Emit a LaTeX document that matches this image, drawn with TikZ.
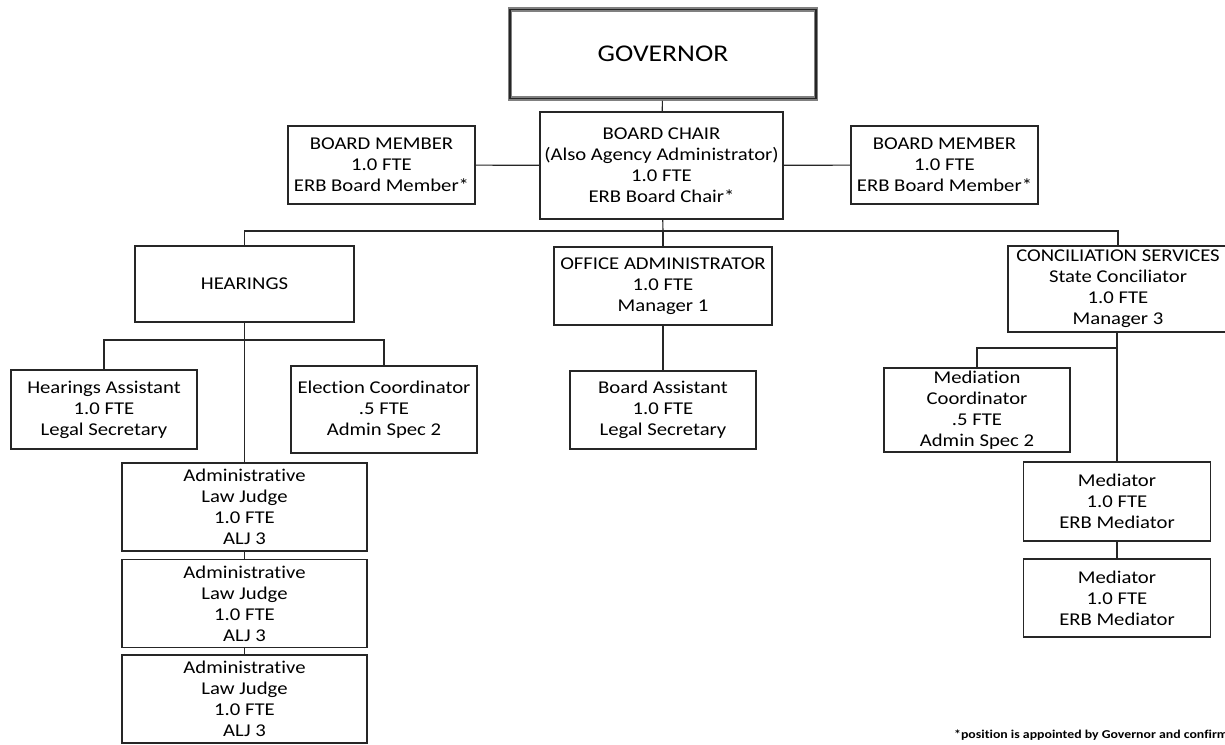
\documentclass[tikz,border=0pt]{standalone}
\usepackage{fontspec}
\setmainfont{Carlito}[FakeStretch=1.15,Ligatures=NoCommon]

\begin{document}
\begin{tikzpicture}[x=1pt,y=-1pt,
  box/.style={draw=black!85,line width=1.1pt,fill=white,inner sep=0pt,align=center,font=\fontsize{18}{21}\selectfont},
  wh/.style 2 args={minimum width=#1pt,minimum height=#2pt},
  gov/.style={box,draw=black!50,line width=4.5pt,postaction={draw=black!85,line width=1.2pt},font=\fontsize{24}{28}\selectfont},
  link/.style={draw=black!85,line width=1.1pt},
  note/.style={inner sep=0pt,font=\bfseries\fontsize{12}{14}\selectfont}]
\clip (0,0) rectangle (1225,744);
\fill[white] (0,0) rectangle (1225,744);
%%% top of the chart
\node[gov,wh={306}{89}] (gov) at (663,54) {GOVERNOR};
\node[box,wh={243}{107}] (chair) at (661.5,165.5) {BOARD CHAIR\\(Also Agency Administrator)\\1.0 FTE\\ERB Board Chair*};
\node[box,wh={187}{78}] (bml) at (381.5,165) {BOARD MEMBER\\1.0 FTE\\ERB Board Member*};
\node[box,wh={187}{78}] (bmr) at (944.5,165) {BOARD MEMBER\\1.0 FTE\\ERB Board Member*};
\draw[link] (gov) -- (chair);
\draw[link] (bml) -- (chair);
\draw[link] (chair) -- (bmr);
%%% second level
\node[box,wh={219}{76}] (hear) at (244.5,284) {HEARINGS};
\node[box,wh={218}{78}] (office) at (663,286) {OFFICE ADMINISTRATOR\\1.0 FTE\\Manager 1};
\node[box,wh={220}{86}] (conc) at (1118,289) {CONCILIATION SERVICES\\State Conciliator\\1.0 FTE\\Manager 3};
\coordinate (bus) at (663,231);
\draw[link] (chair) -- (bus);
\draw[link] (hear.north) |- (bus) -| (conc.north);
\draw[link] (bus) -- (office);
%%% hearings
\node[box,wh={186}{79}] (hass) at (104,409.5) {Hearings Assistant\\1.0 FTE\\Legal Secretary};
\node[box,wh={186}{87}] (elec) at (384,409.5) {Election Coordinator\\.5 FTE\\Admin Spec 2};
\foreach \y [count=\i] in {507,603.5,699}
  {\node[box,wh={245}{88}] (alj\i) at (244.5,\y) {Administrative\\Law Judge\\1.0 FTE\\ALJ 3};}
\coordinate (hbus) at (244.5,340);
\draw[link] (hass.north) |- (hbus) -| (elec.north);
\draw[link] (hear) -- (alj1);
\draw[link] (alj1) -- (alj2);
\draw[link] (alj2) -- (alj3);
%%% office
\node[box,wh={186}{78}] (bassist) at (663,410) {Board Assistant\\1.0 FTE\\Legal Secretary};
\draw[link] (office) -- (bassist);
%%% conciliation
\node[box,wh={186}{84}] (medc) at (977,410) {Mediation\\Coordinator\\.5 FTE\\Admin Spec 2};
\foreach \y/\h [count=\i] in {501.5/79,598/78}
  {\node[box,wh={187}{\h}] (med\i) at (1117,\y) {Mediator\\1.0 FTE\\ERB Mediator};}
\coordinate (cbus) at (1117,348);
\draw[link] (conc.south -| med1.north) -- (med1.north);
\draw[link] (medc.north) |- (cbus);
\draw[link] (med1) -- (med2);
%%% footnote
\node[note,anchor=base west] (fn) at (954,738) {*position is appointed by Governor and confirmed by Senate};
\end{tikzpicture}
\end{document}
